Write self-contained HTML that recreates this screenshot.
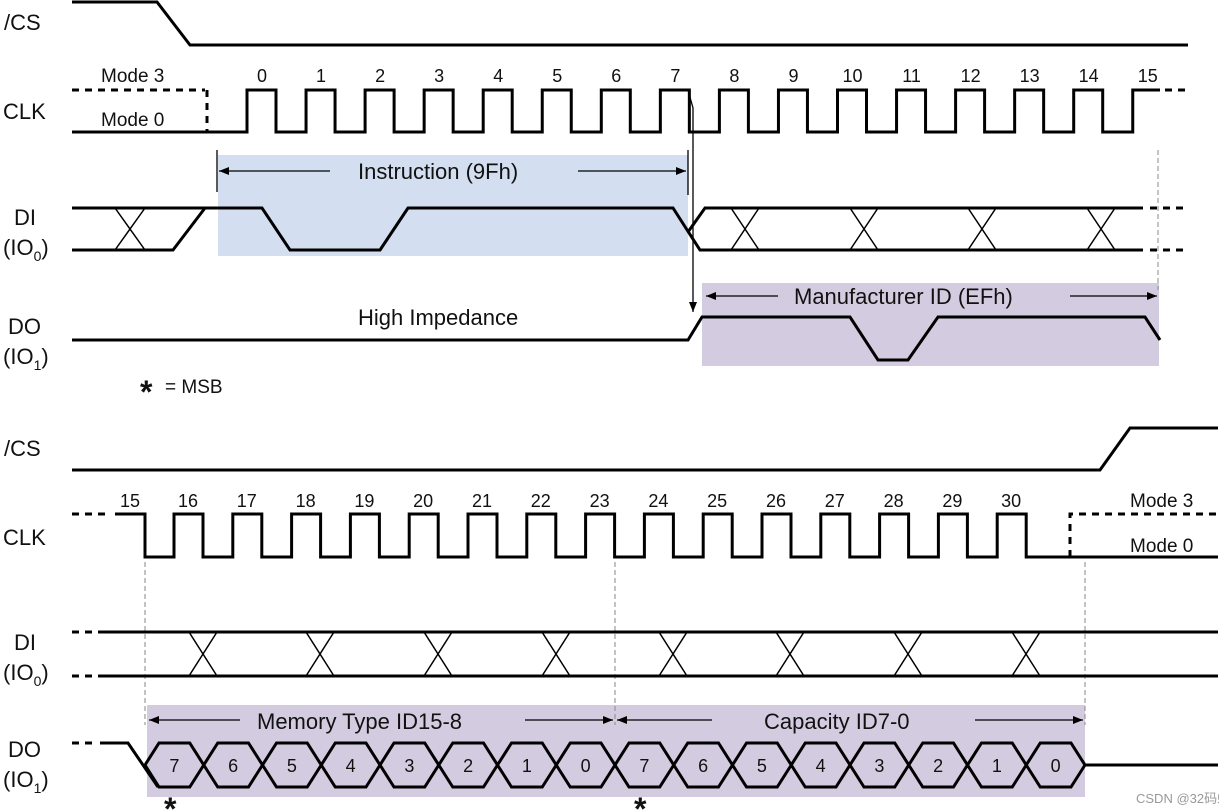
<!DOCTYPE html>
<html><head><meta charset="utf-8"><style>
html,body{margin:0;padding:0;background:#fff;width:1219px;height:811px;overflow:hidden}
svg{display:block}
text{font-family:"Liberation Sans",Arial,sans-serif;fill:#111}
</style></head><body>
<svg id="s" width="1219" height="811" viewBox="0 0 1219 811" xmlns="http://www.w3.org/2000/svg">
<defs><marker id="ah" markerWidth="10" markerHeight="8" refX="10" refY="4" orient="auto" markerUnits="userSpaceOnUse"><path d="M0,0 L10,4 L0,8 Z" fill="#000"/></marker></defs>
<rect x="218" y="155" width="470" height="101" fill="#d3dff0"/>
<rect x="702" y="283" width="457" height="83" fill="#d3cce0"/>
<rect x="147" y="705" width="938" height="92" fill="#d3cce0"/>
<g id="g" fill="none" stroke="#000" stroke-width="3" stroke-linejoin="miter"></g>
<g font-size="22">
<text x="4" y="30">/CS</text><text x="3" y="119">CLK</text>
<text x="14" y="225">DI</text><text x="3" y="255">(IO<tspan font-size="14" dy="6">0</tspan><tspan dy="-6">)</tspan></text>
<text x="8" y="334">DO</text><text x="3" y="364">(IO<tspan font-size="14" dy="6">1</tspan><tspan dy="-6">)</tspan></text>
<text x="4" y="456">/CS</text><text x="3" y="545">CLK</text>
<text x="14" y="650">DI</text><text x="3" y="680">(IO<tspan font-size="14" dy="6">0</tspan><tspan dy="-6">)</tspan></text>
<text x="8" y="757">DO</text><text x="3" y="787">(IO<tspan font-size="14" dy="6">1</tspan><tspan dy="-6">)</tspan></text>
<text x="358" y="179">Instruction (9Fh)</text>
<text x="358" y="325">High Impedance</text>
<text x="794" y="304">Manufacturer ID (EFh)</text>
<text x="257" y="729">Memory Type ID15-8</text>
<text x="764" y="729">Capacity ID7-0</text>
</g>
<g font-size="19">
<text x="101" y="82">Mode 3</text><text x="101" y="126">Mode 0</text>
<text x="1130" y="507">Mode 3</text><text x="1130" y="552">Mode 0</text>
<text x="165" y="393">= MSB</text>
</g>
<text x="140" y="403" font-size="32" font-weight="bold">*</text>
<text x="164" y="820" font-size="32" font-weight="bold">*</text>
<text x="634" y="820" font-size="32" font-weight="bold">*</text>
<text x="1136" y="803" font-size="13" style="fill:#999">CSDN @32码蚁</text>
<g id="t" font-size="18" text-anchor="middle"></g>
</svg>
<script>
var g=document.getElementById('g'),t=document.getElementById('t'),NS='http://www.w3.org/2000/svg';
function P(d,o){var e=document.createElementNS(NS,'path');e.setAttribute('d',d);if(o)for(var k in o)e.setAttribute(k,o[k]);g.appendChild(e);return e;}
function T(x,y,s,a){var e=document.createElementNS(NS,'text');e.setAttribute('x',x);e.setAttribute('y',y);e.textContent=s;if(a)for(var k in a)e.setAttribute(k,a[k]);t.appendChild(e);}
var dash={'stroke-dasharray':'7,6'};
var thin={'stroke-width':1.3};
var gdash={'stroke-width':1,'stroke':'#888','stroke-dasharray':'5,3'};
P('M72,2 L157,2 L190,45 L1188,45');
P('M72,90 L205,90',dash);P('M207,90 L207,132',dash);
var d='M72,132 ';
for(var n=0;n<16;n++){var r=247+n*59.05;d+='L'+r+',132 L'+r+',90 ';if(n<15){d+='L'+(r+29)+',90 L'+(r+29)+',132 ';}else{d+='L1160,90';}T(r+15,82,String(n));}
P(d);P('M1165,90 L1188,90',dash);
P('M217,150 L217,192',thin);P('M688,150 L688,195',thin);
P('M330,171 L219,171',Object.assign({'marker-end':'url(#ah)'},thin));
P('M578,171 L686,171',Object.assign({'marker-end':'url(#ah)'},thin));
P('M72,208 L262,208 L290,250 L380,250 L408,208 L673,208 L700,250 L1143,250');
P('M72,250 L173,250 L205,208');
P('M688,232 L705,208 L1143,208');
P('M115,208 L145,250 M115,250 L145,208',{'stroke-width':1.5});
[745,864,982,1101].forEach(function(x){P('M'+(x-14)+',208 L'+(x+14)+',250 M'+(x-14)+',250 L'+(x+14)+',208',{'stroke-width':1.5});});
P('M1150,208 L1188,208 M1150,250 L1188,250',dash);
P('M688,90 L693,108 L693,312',Object.assign({'marker-end':'url(#ah)'},thin));
P('M1158,150 L1158,290',gdash);
P('M72,340 L688,340 L702,317 L850,317 L878,360 L908,360 L938,317 L1145,317 L1160,340');
P('M778,296 L706,296',Object.assign({'marker-end':'url(#ah)'},thin));
P('M1070,296 L1157,296',Object.assign({'marker-end':'url(#ah)'},thin));
P('M72,470 L1100,470 L1130,428 L1218,428');
P('M72,514 L108,514',dash);
var d2='M115,514 L145,514 L145,557 ';T(130,507,'15');
for(var n=16;n<=30;n++){var r=174+(n-16)*58.8;d2+='L'+r+',557 L'+r+',514 L'+(r+29)+',514 L'+(r+29)+',557 ';T(r+14,507,String(n));}
d2+='L1218,557';P(d2);
P('M1070,557 L1070,514 L1218,514',dash);
[145,615,1085].forEach(function(x){P('M'+x+',562 L'+x+',725',gdash);});
P('M72,632 L100,632 M72,676 L100,676',dash);
P('M100,632 L1218,632 M100,676 L1218,676');
[203,320,438,556,673,790,908,1026].forEach(function(x){P('M'+(x-14)+',632 L'+(x+14)+',676 M'+(x-14)+',676 L'+(x+14)+',632',{'stroke-width':1.5});});
P('M72,743 L98,743',dash);
var b=[];for(var i=0;i<=16;i++)b.push(145+i*58.75);
var hw=14;
P('M100,743 L128,743 L158,787');
var dt='M145,765 ',db='M145,765 ';
for(var i=0;i<16;i++){var a=b[i],c=b[i+1];dt+='L'+(a+hw)+',743 L'+(c-hw)+',743 L'+c+',765 ';db+='L'+(a+hw)+',787 L'+(c-hw)+',787 L'+c+',765 ';}
P(dt);P(db);P('M1085,765 L1218,765');
var labs=['7','6','5','4','3','2','1','0','7','6','5','4','3','2','1','0'];
for(var i=0;i<16;i++)T((b[i]+b[i+1])/2,772,labs[i]);
P('M240,720 L149,720',Object.assign({'marker-end':'url(#ah)'},thin));
P('M525,720 L613,720',Object.assign({'marker-end':'url(#ah)'},thin));
P('M712,720 L617,720',Object.assign({'marker-end':'url(#ah)'},thin));
P('M975,720 L1083,720',Object.assign({'marker-end':'url(#ah)'},thin));
</script>
</body></html>
